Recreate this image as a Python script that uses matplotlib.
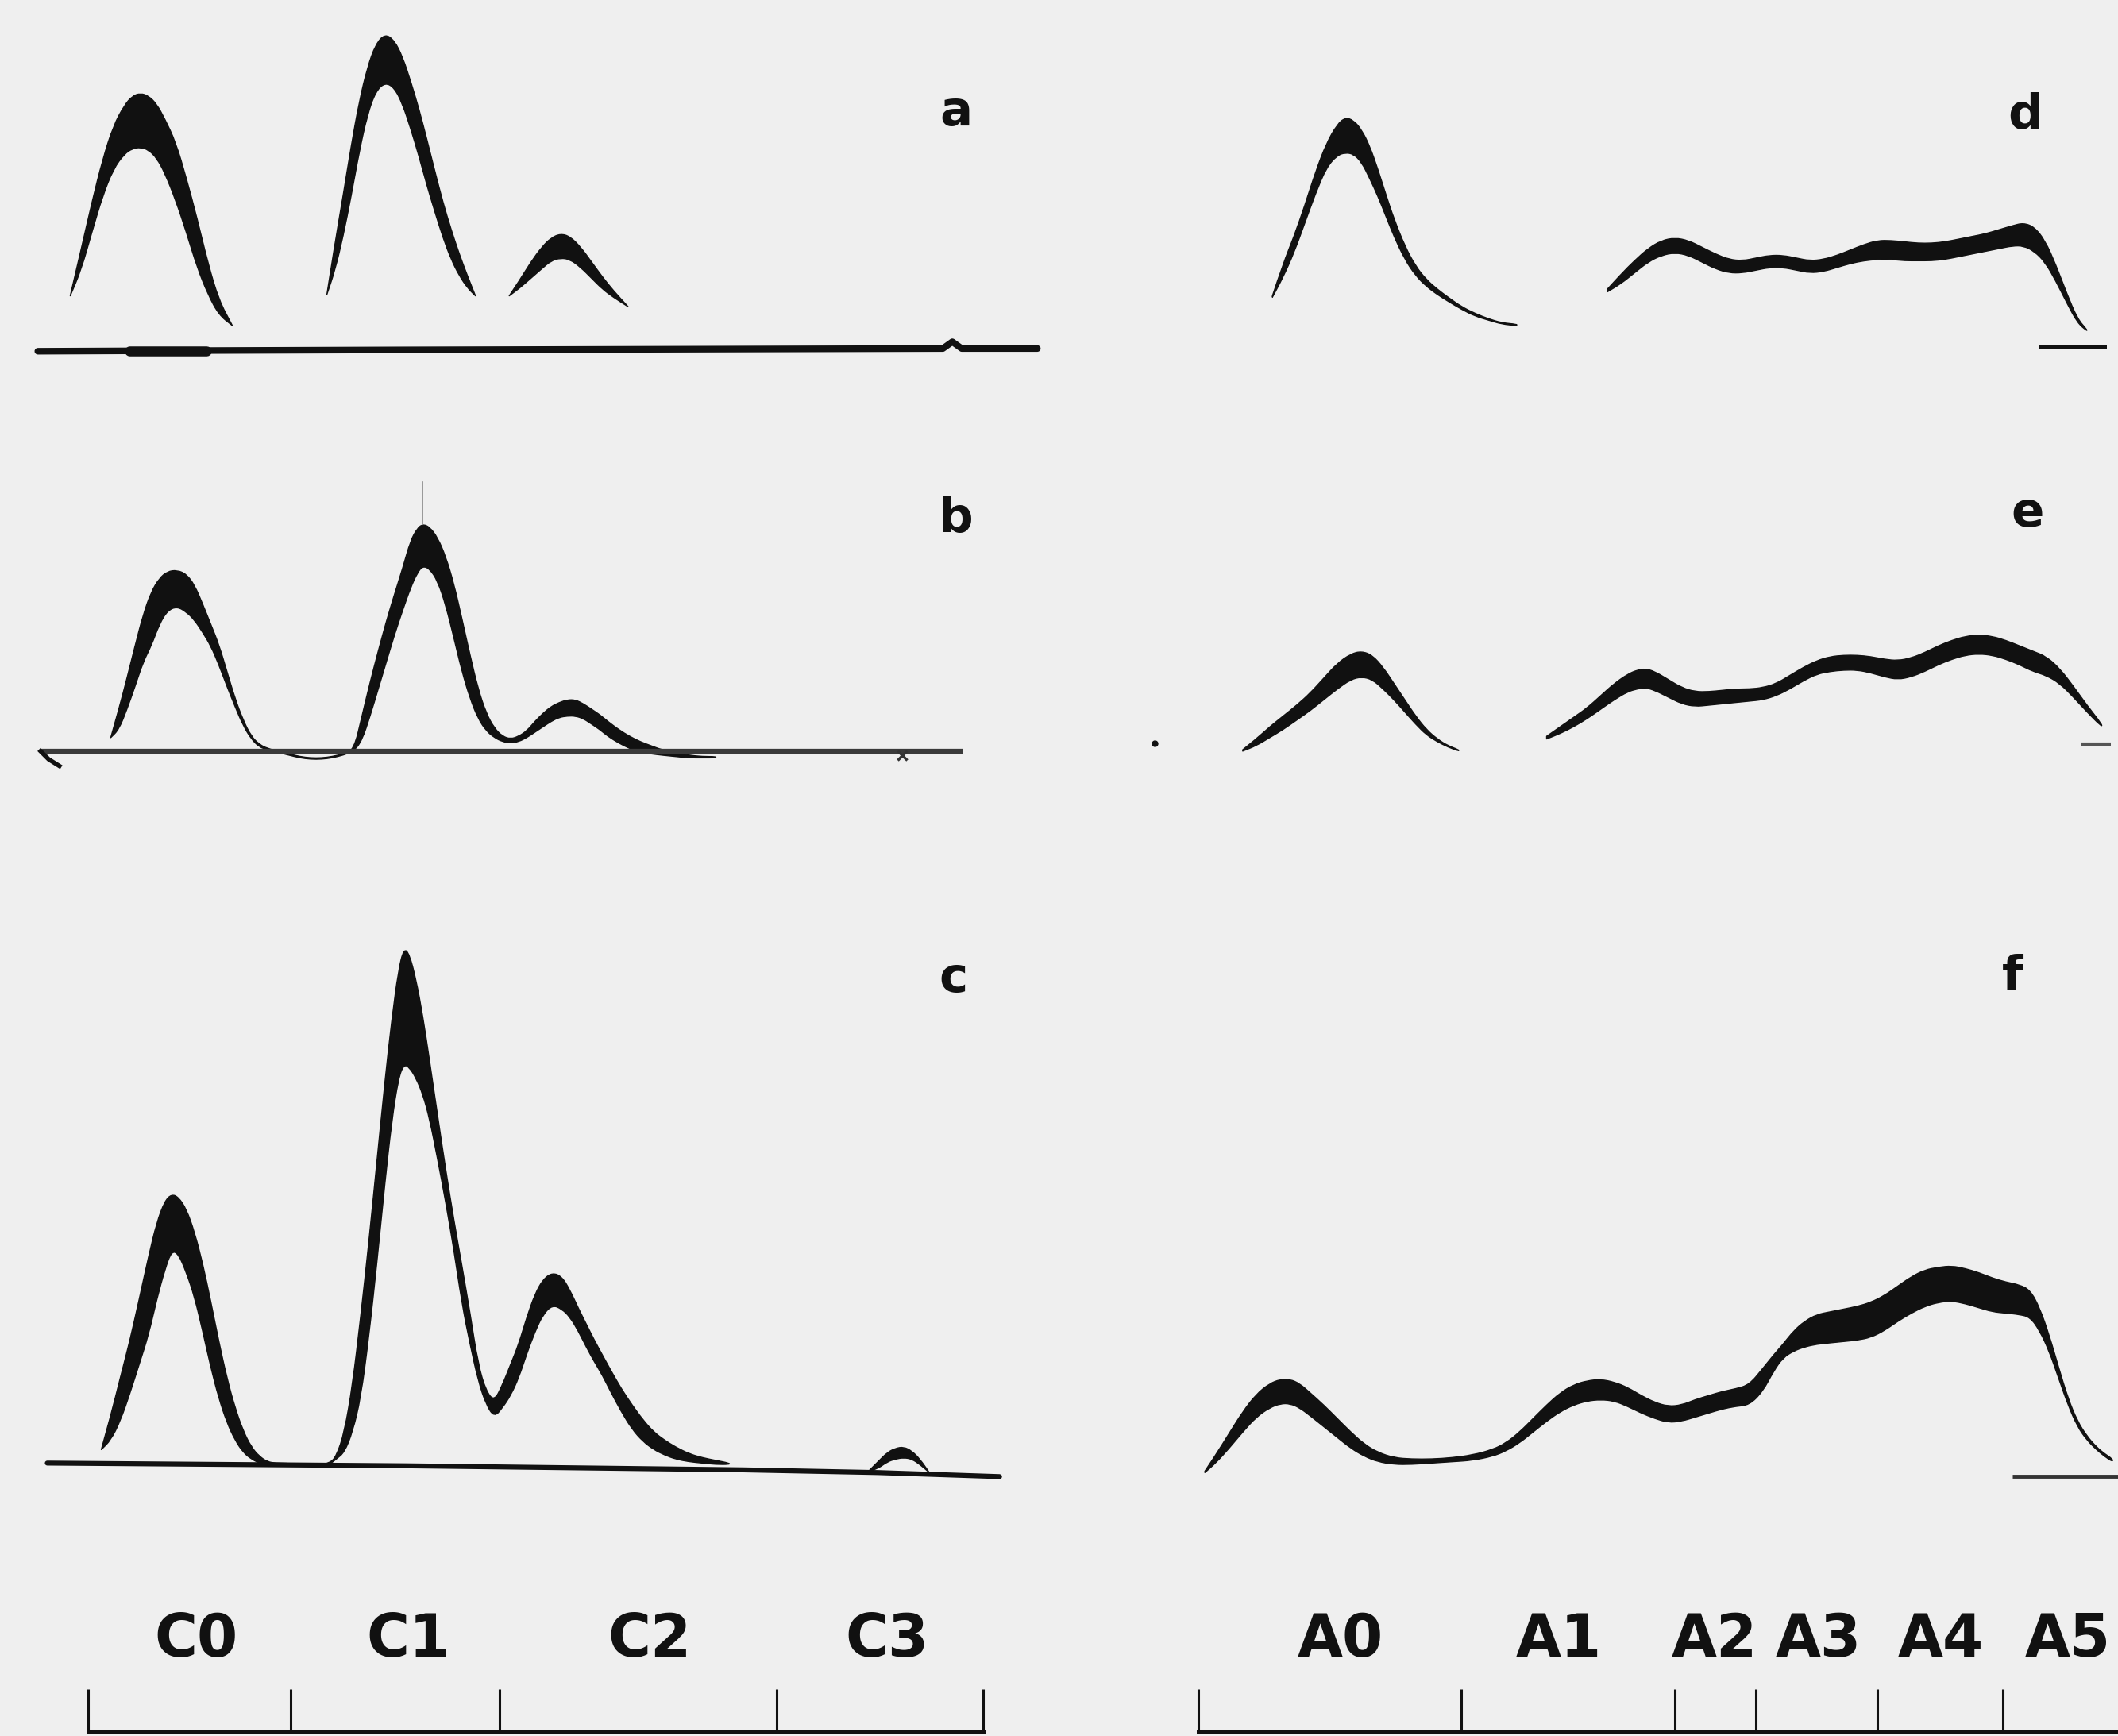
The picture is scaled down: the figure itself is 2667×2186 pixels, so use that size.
import matplotlib.pyplot as plt
from matplotlib.path import Path
from matplotlib.patches import PathPatch

# page grid used for the layout (same proportions as the output image)
W, H = 1568, 1285

# ---------------- panel a : C fractions, heights above the baseline ----------------
a_c0_x = [52, 60, 68, 76, 84, 92, 98, 104, 110, 116, 122, 130, 138, 146, 154, 162, 172]
a_c0_top = [39, 73, 108, 140, 165, 180, 187, 189, 187, 181, 170, 153, 126, 96, 63, 36, 17]
a_c0_bot = [39, 58, 86, 113, 133, 144, 148, 149, 147, 141, 130, 110, 86, 60, 40, 25, 17]

a_c1_x = [242, 248, 254, 260, 266, 272, 278, 285, 292, 298, 304, 310, 316, 322, 328, 334, 340, 346, 352]
a_c1_top = [40, 78, 113, 150, 183, 208, 225, 233, 228, 216, 198, 178, 155, 131, 108, 88, 70, 54, 39]
a_c1_bot = [40, 58, 83, 113, 146, 173, 190, 197, 193, 181, 163, 143, 121, 101, 82, 66, 54, 45, 39]

a_c2_x = [377, 385, 393, 401, 408, 415, 422, 430, 438, 446, 454, 465]
a_c2_top = [39, 51, 64, 75, 82, 85, 83, 75, 64, 53, 43, 31]
a_c2_bot = [39, 45, 52, 59, 65, 67, 66, 60, 52, 44, 38, 31]

a_base_x = [28, 150, 300, 500, 698, 705, 712, 768]
a_base_h = [-2, -1.5, -1, -0.5, 0, 5, 0, 0]
a_blob_x = [96, 153]
a_blob_h = [-2, -2]

# ---------------- panel b ----------------
b_x = [82, 88, 94, 100, 106, 112, 118, 124, 131, 138, 144, 150, 156, 162, 168, 174, 180, 186, 192, 198,
       206, 214, 222, 230, 238, 246, 254, 262,
       268, 274, 280, 286, 292, 298, 304, 309, 313, 318, 324, 330, 336, 342, 348, 354, 360, 366, 372, 378, 384,
       390, 396, 402, 408, 414, 420, 426, 432, 438, 444, 450, 458, 466, 474, 482, 490, 500, 510, 520, 530]
b_top = [10, 31, 54, 78, 101, 118, 128, 133, 134, 131, 123, 109, 94, 79, 59, 39, 23, 11, 5, 2,
         0, -2, -4, -5, -5, -4, -2, 1,
         26, 51, 74, 96, 116, 135, 156, 165, 168, 166, 158, 144, 124, 98, 71, 46, 28, 17, 11, 9, 11,
         15, 22, 28, 33, 36, 38, 38, 35, 31, 27, 22, 16, 11, 7, 4, 1, -1, -3, -4, -4]
b_bot = [10, 16, 31, 48, 66, 78, 94, 104, 107, 103, 97, 88, 78, 64, 48, 33, 19, 9, 3, 1,
         -1, -3, -5, -6, -6, -5, -3, 0,
         8, 26, 46, 66, 86, 104, 121, 132, 137, 135, 126, 108, 84, 59, 39, 24, 15, 10, 7, 6, 7,
         10, 14, 18, 22, 25, 26, 26, 24, 20, 16, 11, 6, 2, -1, -2, -3, -4, -5, -5, -5]

b_base_x = [30, 713]
b_base_h = [0, 0]
b_hook_x = [30, 36, 44]
b_hook_h = [0, -6, -11]
b_spike_x = [313, 313]
b_spike_h = [168, 199]

# ---------------- panel c ----------------
c_x = [75, 82, 89, 96, 103, 110, 116, 122, 127, 132, 138, 144, 150, 156, 162, 168, 174, 180, 186, 192, 198, 204,
       212, 220, 228, 236, 244,
       249, 255, 261, 267, 273, 279, 285, 290, 295, 299, 303, 308, 313, 318, 324, 330, 336, 342, 348, 354, 360, 366,
       372, 378, 384, 390, 396, 402, 409, 416, 422, 428, 434, 440, 446, 452, 460, 468, 476, 484, 492, 500, 510, 520,
       530, 540]
c_top = [12, 37, 65, 92, 123, 155, 180, 196, 201, 199, 190, 173, 150, 122, 92, 65, 43, 26, 14, 7, 3, 2,
         2, 1, 1, 1, 2,
         7, 25, 60, 110, 165, 225, 285, 330, 367, 383, 379, 360, 333, 300, 259, 219, 182, 148, 113, 75, 55, 48,
         60, 75, 90, 110, 127, 138, 143, 140, 130, 117, 105, 93, 82, 71, 57, 45, 34, 25, 19, 14, 9, 6, 4, 2]
c_bot = [12, 19, 33, 53, 75, 97, 123, 145, 159, 157, 143, 125, 100, 73, 50, 32, 19, 10, 5, 2, 1, 1,
         1, 0, 0, 0, 1,
         5, 10, 25, 50, 95, 150, 210, 255, 287, 297, 295, 287, 275, 257, 227, 195, 160, 120, 90, 63, 45, 36,
         43, 52, 65, 83, 99, 112, 119, 116, 110, 100, 88, 77, 67, 55, 40, 27, 18, 12, 8, 5, 3, 2, 1, 1]

c_c3_x = [643, 650, 657, 663, 669, 675, 681, 688]
c_c3_top = [-4, 3, 10, 13, 14, 11, 5, -5]
c_c3_bot = [-4, -2, 3, 5, 6, 5, 1, -5]

c_base_x = [35, 300, 550, 650, 740]
c_base_h = [2, 0, -3, -5, -8]

# ---------------- panel d : A fractions ----------------
d_a0_x = [942, 950, 958, 966, 974, 982, 990, 996, 1002, 1008, 1014, 1020, 1026, 1032, 1040, 1048, 1056,
          1064, 1072, 1082, 1092, 1102, 1112, 1123]
d_a0_top = [38, 62, 82, 105, 130, 151, 165, 170, 168, 161, 149, 132, 113, 95, 75, 60, 50, 43, 37, 30, 25, 21, 18, 17]
d_a0_bot = [37, 52, 70, 92, 114, 133, 142, 144, 143, 137, 125, 112, 97, 82, 65, 53, 45, 39, 34, 28, 23, 20, 17, 16]

d_rest_x = [1190, 1200, 1210, 1220, 1230, 1240, 1250, 1260, 1270, 1280, 1290, 1300, 1310, 1320, 1330, 1340,
            1350, 1360, 1370, 1380, 1390, 1400, 1410, 1420, 1430, 1440, 1450, 1460, 1470, 1480, 1490,
            1498, 1506, 1514, 1522, 1530, 1538, 1545]
d_rest_top = [43, 54, 64, 73, 79, 81, 79, 74, 69, 65, 64, 66, 68, 68, 66, 64, 65, 68, 72, 76, 79, 79, 78, 77,
              77, 78, 80, 82, 84, 87, 90, 92, 89, 79, 61, 40, 21, 13]
d_rest_bot = [41, 47, 55, 63, 68, 70, 68, 63, 58, 55, 55, 57, 59, 59, 57, 55, 56, 59, 62, 64, 65, 65, 64, 64,
              64, 65, 67, 69, 71, 73, 75, 75, 71, 63, 49, 33, 18, 12]

d_base_x = [1510, 1560]
d_base_h = [0, 0]

# ---------------- panel e ----------------
e_a0_x = [920, 930, 940, 950, 960, 970, 980, 990, 1000, 1008, 1016, 1024, 1032, 1040, 1048, 1056, 1064, 1072, 1080]
e_a0_top = [-4, 4, 13, 21, 29, 38, 49, 60, 67, 69, 66, 57, 45, 33, 21, 11, 4, -1, -4]
e_a0_bot = [-5, -1, 5, 11, 18, 25, 33, 41, 48, 50, 48, 41, 33, 24, 15, 7, 2, -2, -5]

e_rest_x = [1145, 1155, 1165, 1175, 1185, 1195, 1205, 1212, 1218, 1225, 1235, 1245, 1255, 1265, 1275, 1285,
            1295, 1305, 1315, 1325, 1335, 1345, 1355, 1365, 1375, 1385, 1395, 1405, 1415, 1425, 1435, 1445,
            1455, 1465, 1475, 1485, 1495, 1505, 1515, 1525, 1535, 1545, 1556]
e_rest_top = [6, 13, 20, 27, 36, 45, 52, 55, 56, 54, 48, 42, 39, 39, 40, 41, 41, 42, 45, 51, 57, 62, 65, 66,
              66, 65, 63, 62, 64, 68, 73, 77, 80, 81, 80, 77, 73, 69, 65, 56, 43, 29, 15]
e_rest_bot = [4, 8, 13, 19, 26, 33, 39, 41, 42, 40, 35, 30, 28, 29, 30, 31, 32, 33, 36, 41, 47, 52, 54, 55,
              55, 53, 50, 48, 50, 54, 59, 63, 66, 67, 66, 63, 59, 54, 51, 45, 35, 24, 13]

e_base_x = [1541, 1563]
e_base_h = [0, 0]

# ---------------- panel f ----------------
f_x = [892, 900, 910, 920, 930, 940, 948, 955, 962, 970, 980, 990, 1000, 1010, 1020,
       1032, 1045, 1060, 1075, 1090, 1105,
       1115, 1125, 1135, 1145, 1155, 1165, 1175, 1185, 1195, 1205, 1215, 1225, 1235, 1245, 1255, 1265, 1275, 1285,
       1295, 1305, 1313, 1320, 1328, 1336,
       1345, 1355, 1365, 1375, 1385, 1395, 1405, 1415, 1425, 1435, 1445, 1455, 1465, 1475, 1485, 1495,
       1503, 1510, 1517, 1524, 1531, 1538, 1545, 1552, 1558, 1564]
f_top = [4, 16, 32, 48, 61, 69, 72, 72, 69, 62, 53, 43, 33, 24, 18,
         14, 13, 13, 14, 16, 20,
         25, 33, 43, 53, 62, 68, 71, 72, 70, 66, 60, 55, 52, 53, 57, 60, 63, 65,
         68, 80, 90, 98, 108, 115,
         120, 122, 124, 126, 129, 134, 141, 148, 153, 155, 156, 154, 151, 147, 144, 142,
         138, 125, 105, 81, 58, 41, 30, 22, 17, 13]
f_bot = [3, 10, 21, 33, 44, 51, 54, 54, 51, 45, 37, 29, 21, 15, 11,
         9, 9, 10, 11, 12, 15,
         19, 25, 33, 41, 48, 53, 56, 57, 56, 52, 47, 43, 40, 41, 44, 47, 50, 52,
         53, 63, 78, 88, 93, 96,
         98, 99, 100, 101, 103, 108, 115, 121, 126, 129, 130, 128, 125, 122, 121, 120,
         118, 108, 93, 73, 53, 37, 27, 20, 15, 11]

f_base_x = [1490, 1568]
f_base_h = [0, 0]

# ---------------- fraction scales ----------------
c_bounds = [65, 215, 370, 575, 728]
c_labels = ['C0', 'C1', 'C2', 'C3']
c_label_x = [145, 302, 481, 657]

a_bounds = [887, 1082, 1240, 1300, 1390, 1483]
a_labels = ['A0', 'A1', 'A2', 'A3', 'A4', 'A5']
a_label_x = [992, 1154, 1269, 1346, 1437, 1531]

INK = '#111111'
PAPER = '#efefef'


def panel(fig, x0, x1, top, bottom, base):
    ax = fig.add_axes([x0 / W, 1 - bottom / H, (x1 - x0) / W, (bottom - top) / H])
    ax.set_xlim(x0, x1)
    ax.set_ylim(base - bottom, base - top)
    ax.axis('off')
    return ax


def band(ax, x, top, bot):
    # outline: upper edge left->right, lower edge right->left, drawn as a smooth quadratic path
    pts = list(zip(x, top)) + list(zip(x[::-1], bot[::-1]))
    verts = [pts[0]]
    codes = [Path.MOVETO]
    for i in range(1, len(pts) - 1):
        mid = ((pts[i][0] + pts[i + 1][0]) / 2, (pts[i][1] + pts[i + 1][1]) / 2)
        verts += [pts[i], mid]
        codes += [Path.CURVE3, Path.CURVE3]
    verts += [pts[-1], pts[0]]
    codes += [Path.LINETO, Path.CLOSEPOLY]
    ax.add_patch(PathPatch(Path(verts, codes), facecolor=INK, edgecolor=INK,
                           linewidth=1.0, joinstyle='round'))


def scale(fig, bounds, x_right, labels, label_x):
    ax = fig.add_axes([bounds[0] / W, 1 - 1281.6 / H, (x_right - bounds[0]) / W, 131.6 / H])
    ax.set_xlim(bounds[0], x_right)
    ax.set_ylim(0, 1)
    for s in ['top', 'left', 'right']:
        ax.spines[s].set_visible(False)
    ax.spines['bottom'].set_linewidth(3.6)
    ax.spines['bottom'].set_color(INK)
    ax.set_xticks(bounds)
    ax.set_yticks([])
    ax.tick_params(axis='x', direction='in', length=38, width=2.2, color=INK, labelbottom=False)
    ax.patch.set_visible(False)
    for lx, lab in zip(label_x, labels):
        ax.text(lx, 0.419, lab, ha='center', va='baseline', fontsize=53,
                fontweight='bold', color=INK)
    return ax


def letter(fig, x, y, s):
    fig.text(x / W, 1 - y / H, s, ha='center', va='baseline', fontsize=44,
             fontweight='bold', color=INK)


def main():
    plt.rcParams['font.family'] = ['DejaVu Sans']
    fig = plt.figure(figsize=(26.67, 21.86), dpi=100)
    fig.patch.set_facecolor(PAPER)

    # a
    ax = panel(fig, 0, 784, 0, 300, 258)
    ax.plot(a_base_x, a_base_h, color=INK, lw=6, solid_capstyle='round')
    ax.plot(a_blob_x, a_blob_h, color=INK, lw=9, solid_capstyle='round')
    band(ax, a_c0_x, a_c0_top, a_c0_bot)
    band(ax, a_c1_x, a_c1_top, a_c1_bot)
    band(ax, a_c2_x, a_c2_top, a_c2_bot)
    letter(fig, 708, 93, 'a')

    # b
    ax = panel(fig, 0, 784, 300, 640, 556)
    ax.plot(b_base_x, b_base_h, color='#3a3a3a', lw=4.5, solid_capstyle='butt')
    ax.plot(b_hook_x, b_hook_h, color=INK, lw=4)
    ax.plot(b_spike_x, b_spike_h, color='#8a8a8a', lw=1.2)
    ax.plot([668], [-3], marker='x', ms=9, mew=2.5, color='#333333')
    band(ax, b_x, b_top, b_bot)
    letter(fig, 708, 394, 'b')

    # c
    ax = panel(fig, 0, 784, 640, 1140, 1085)
    ax.plot(c_base_x, c_base_h, color=INK, lw=4.5, solid_capstyle='round')
    band(ax, c_x, c_top, c_bot)
    band(ax, c_c3_x, c_c3_top, c_c3_bot)
    letter(fig, 706, 734, 'c')

    # d
    ax = panel(fig, 784, 1568, 0, 300, 257)
    ax.plot(d_base_x, d_base_h, color=INK, lw=4, solid_capstyle='butt')
    band(ax, d_a0_x, d_a0_top, d_a0_bot)
    band(ax, d_rest_x, d_rest_top, d_rest_bot)
    letter(fig, 1499, 95, 'd')

    # e
    ax = panel(fig, 784, 1568, 300, 640, 551)
    ax.plot(e_base_x, e_base_h, color='#555555', lw=3, solid_capstyle='butt')
    ax.plot([855], [1], 'o', ms=5, color=INK)
    band(ax, e_a0_x, e_a0_top, e_a0_bot)
    band(ax, e_rest_x, e_rest_top, e_rest_bot)
    letter(fig, 1501, 390, 'e')

    # f
    ax = panel(fig, 784, 1568, 640, 1140, 1093)
    ax.plot(f_base_x, f_base_h, color='#333333', lw=3.5, solid_capstyle='butt')
    band(ax, f_x, f_top, f_bot)
    letter(fig, 1490, 733, 'f')

    # fraction scales
    scale(fig, c_bounds, c_bounds[-1], c_labels, c_label_x)
    scale(fig, a_bounds, W, a_labels, a_label_x)

    fig.savefig('out.png', dpi=100, facecolor=fig.get_facecolor())


if __name__ == '__main__':
    main()
